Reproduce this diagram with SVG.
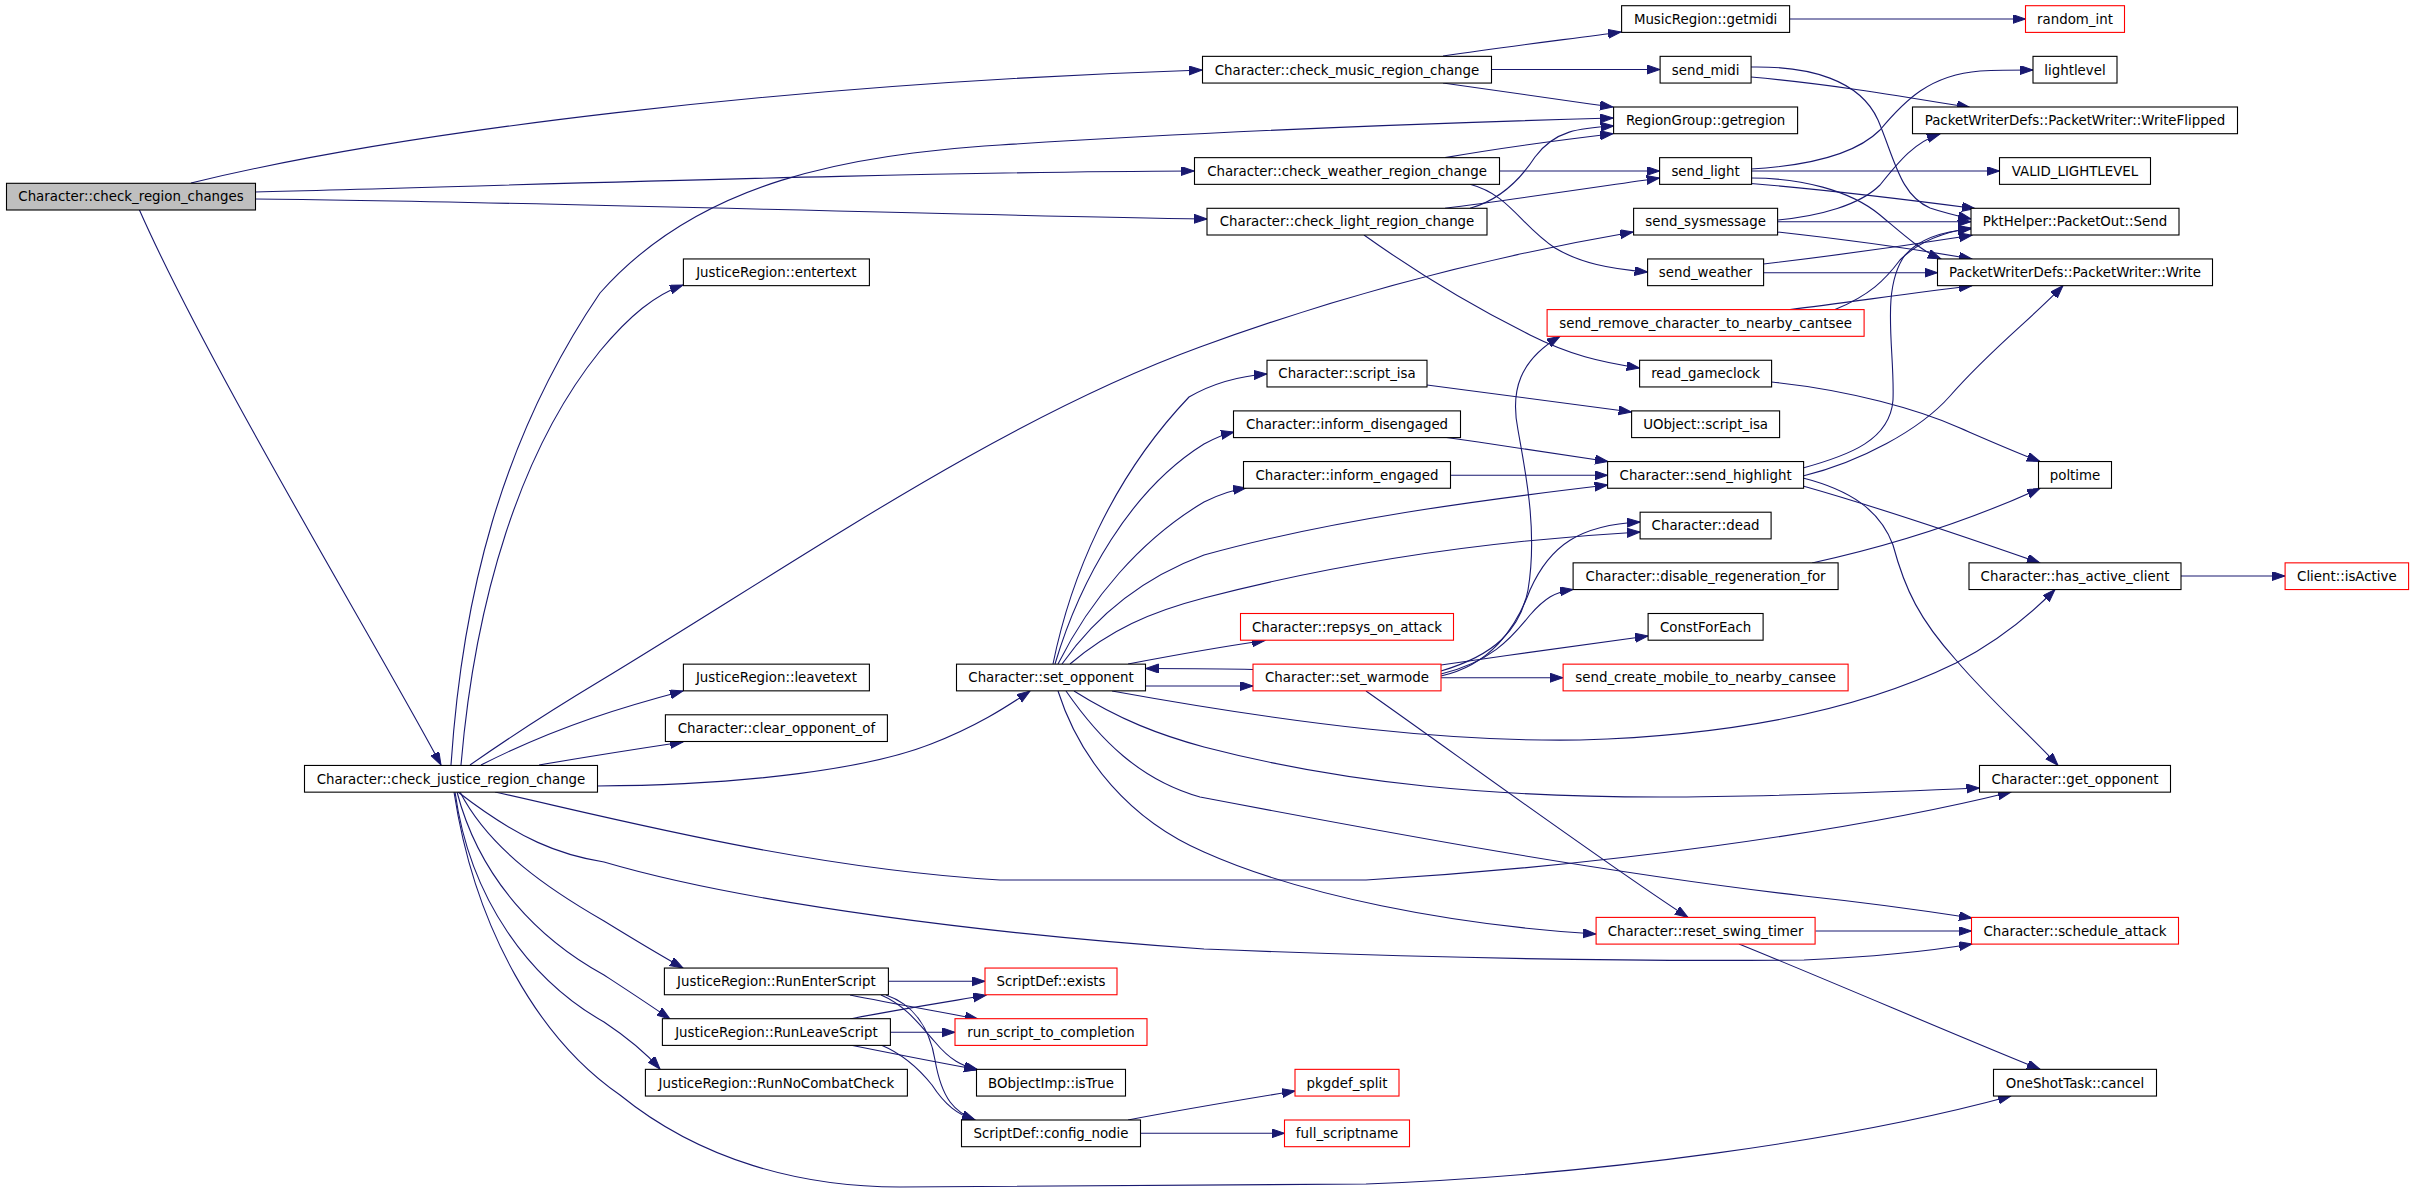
<svg xmlns="http://www.w3.org/2000/svg" width="2413" height="1194" viewBox="0 0 2413 1194">
<style>
.node rect{fill:#fff;stroke:#000;stroke-width:1.1}
.node.red rect{stroke:#f00}
.node.root rect{fill:#bfbfbf}
.node text{font-family:"DejaVu Sans","Liberation Sans",sans-serif;font-size:13.35px;text-anchor:middle;fill:#000}
#edges path{fill:none;stroke:#191970;stroke-width:1.1;marker-end:url(#ah)}
</style>
<defs>
<marker id="ah" markerWidth="14" markerHeight="10" refX="13" refY="4.5" orient="auto" markerUnits="userSpaceOnUse"><path d="M0,0 L13,4.5 L0,9 z" fill="#191970" stroke="#191970" stroke-width="1"/></marker>
</defs>
<rect width="2413" height="1194" fill="#fff"/>
<g id="edges">
<path d="M191,183 C 400,132 780,84 1202,70"/>
<path d="M255,192 C 500,186 900,172 1194,171"/>
<path d="M255,199 C 500,201 900,214 1207,219"/>
<path d="M139,209 C 210,370 380,650 441,765"/>
<path d="M1443,56 C 1510,46 1570,39 1621,32"/>
<path d="M1491,69.5 L1660,69.5"/>
<path d="M1443,83 C 1510,92 1560,100 1613,107"/>
<path d="M451,765 C 462,600 500,440 600,293 C 700,180 850,155 1000,145 C 1200,132 1400,124 1613,118"/>
<path d="M461,765 C 475,600 520,450 600,351 C 630,315 655,295 683,285"/>
<path d="M470,765 C 520,730 560,705 600,681 C 800,560 1000,420 1200,347 C 1350,292 1500,255 1633,232"/>
<path d="M481,765 C 560,725 630,705 683,691"/>
<path d="M539,765 C 580,758 630,750 683,742"/>
<path d="M597,786 C 750,785 870,768 931,744 C 975,727 1005,708 1030,691"/>
<path d="M495,792 C 600,815 800,868 1000,880 L1366,880 C 1600,866 1850,832 2011,792"/>
<path d="M458,792 C 520,840 560,855 604,862 C 750,905 1000,935 1204,949 C 1400,957 1600,962 1804,960 C 1870,957 1930,951 1972,944"/>
<path d="M460,792 C 490,850 550,890 604,921 C 630,937 660,955 683,968"/>
<path d="M457,792 C 480,880 540,940 604,975 C 630,992 650,1005 670,1019"/>
<path d="M455,792 C 470,900 530,980 604,1022 C 625,1036 645,1052 660,1069"/>
<path d="M454,792 C 475,930 540,1040 620,1095 C 700,1160 800,1187 900,1187 L1366,1184 C 1600,1175 1850,1140 2011,1096"/>
<path d="M1445,157.6 C 1500,148 1560,140 1613,133.7"/>
<path d="M1499.5,171 L1659.6,171"/>
<path d="M1470,184.3 C 1510,195 1520,225 1555,248 C 1580,263 1610,269 1647.6,272"/>
<path d="M1470,208.3 C 1500,200 1520,180 1535,157 C 1555,130 1580,128 1613.6,126"/>
<path d="M1445,208.3 C 1510,200 1590,188 1659.6,178"/>
<path d="M1364,235 C 1420,275 1480,310 1530,335 C 1570,355 1600,362 1639.6,368"/>
<path d="M1789.6,19 L2025.5,19"/>
<path d="M1751,67 C 1810,66 1860,80 1878,120 C 1895,160 1900,195 1930,208 C 1945,213 1958,216 1971,219"/>
<path d="M1751,77 C 1830,84 1900,96 1970,107.5"/>
<path d="M1751,169 C 1820,165 1860,150 1880,130 C 1905,100 1930,75 1980,71 C 2000,70 2015,70 2033,70"/>
<path d="M1751,171 L1999.5,171"/>
<path d="M1751,178 C 1800,178 1850,190 1880,215 C 1905,236 1920,250 1941,259"/>
<path d="M1751,183.5 C 1830,190 1910,200 1975,208.5"/>
<path d="M1777.6,220 C 1820,216 1860,205 1880,185 C 1900,160 1915,142 1940,134"/>
<path d="M1777.6,221.7 L1971,221.7"/>
<path d="M1777.6,232 C 1850,240 1920,250 1972,259"/>
<path d="M1763.6,264 C 1840,255 1910,245 1972,235.2"/>
<path d="M1763.6,272.7 L1937.5,272.7"/>
<path d="M1790,309.6 C 1850,302 1920,292 1972,285.8"/>
<path d="M1835,309.6 C 1870,295 1885,280 1900,260 C 1920,240 1945,232 1971,228"/>
<path d="M1771.6,382 C 1850,390 1920,410 1960,428 C 1990,441 2015,452 2040,461.5"/>
<path d="M1427,385 C 1500,395 1570,404 1631.6,412"/>
<path d="M1053,664 C 1070,580 1110,480 1189,397 C 1215,382 1240,376 1267,374"/>
<path d="M1055,664 C 1080,580 1130,490 1204,444 C 1215,438 1225,434 1234,432"/>
<path d="M1058,664 C 1090,600 1140,540 1204,502 C 1220,494 1232,490 1246,488"/>
<path d="M1062,664 C 1100,610 1150,575 1204,555 C 1330,520 1480,500 1607.6,485"/>
<path d="M1070,664 C 1110,630 1150,612 1204,598 C 1350,560 1500,540 1640,532"/>
<path d="M1128,664 C 1170,656 1220,647 1265,640.5"/>
<path d="M1145.5,686 L1253,686"/>
<path d="M1253,669.5 C 1220,668.5 1180,668.5 1145.5,668.5"/>
<path d="M1112,691 C 1300,725 1450,742 1580,740 C 1750,735 1870,705 1956,663 C 2000,640 2030,615 2055,589.5"/>
<path d="M1074,691 C 1120,720 1160,735 1204,747 C 1350,785 1500,797 1660,797 C 1780,797 1880,792 1979.5,788"/>
<path d="M1066,691 C 1100,740 1140,780 1200,797 C 1400,835 1600,872 1804,896 C 1870,903 1920,910 1972,918"/>
<path d="M1058,691 C 1080,760 1130,820 1204,852 C 1300,895 1450,925 1596,934"/>
<path d="M1441,671 C 1495,655 1520,630 1528,590 C 1538,530 1525,470 1518,430 C 1510,390 1520,360 1560,336.3"/>
<path d="M1441,676 C 1490,665 1515,630 1530,590 C 1550,545 1580,525 1640,522"/>
<path d="M1441,674 C 1490,662 1510,640 1530,615 C 1545,598 1555,592 1573,589.5"/>
<path d="M1441,665 C 1510,655 1580,645 1648,636"/>
<path d="M1441,677.7 L1563,677.7"/>
<path d="M1366,691 C 1450,750 1600,860 1688,917.4"/>
<path d="M1803,468 C 1850,455 1890,440 1893,400 C 1895,350 1880,290 1905,255 C 1920,238 1945,231 1971,229"/>
<path d="M1803,476 C 1860,462 1920,430 1950,396 C 1990,350 2030,320 2063,285.7"/>
<path d="M1803,486 C 1870,505 1960,535 2040,563"/>
<path d="M1803,478 C 1850,490 1880,510 1893,545 C 1905,590 1920,620 1956,660 C 1990,700 2030,735 2058,765.4"/>
<path d="M1812,563 C 1880,548 1960,525 2040,488.3"/>
<path d="M2181,576 L2285,576"/>
<path d="M1815.6,931 L1971.5,931"/>
<path d="M1739,944 C 1840,985 1950,1033 2040,1069.3"/>
<path d="M1128,1120 C 1180,1110 1240,1100 1295,1091"/>
<path d="M1140.5,1133.3 L1284.5,1133.3"/>
<path d="M888.5,981.3 L985,981.3"/>
<path d="M850,995 C 890,1003 930,1010 978,1019"/>
<path d="M881,995 C 905,1005 920,1025 935,1042 C 950,1060 962,1066 978,1070"/>
<path d="M886,995 C 915,1005 930,1030 935,1060 C 942,1100 955,1112 975,1120"/>
<path d="M850,1019 C 895,1010 940,1003 986,995.3"/>
<path d="M890,1032.3 L955,1032.3"/>
<path d="M850,1045 C 890,1053 935,1062 977,1069.5"/>
<path d="M881,1045 C 905,1055 920,1070 932,1085 C 945,1105 958,1115 975,1120"/>
<path d="M1443,437 C 1500,445 1560,454 1608,461.5"/>
<path d="M1450,475.3 L1607.6,475.3"/>
</g>
<g id="n1" class="node root"><rect x="6.5" y="183.3" width="249" height="26.7"/><text x="131" y="201.45">Character::check_region_changes</text></g>
<g id="n2" class="node"><rect x="1202.5" y="56.35" width="289" height="26.7"/><text x="1347" y="74.5">Character::check_music_region_change</text></g>
<g id="n3" class="node"><rect x="1194.5" y="157.65" width="305" height="26.7"/><text x="1347" y="175.8">Character::check_weather_region_change</text></g>
<g id="n4" class="node"><rect x="1207" y="208.3" width="280" height="26.7"/><text x="1347" y="226.45">Character::check_light_region_change</text></g>
<g id="n5" class="node"><rect x="304.5" y="765.45" width="293" height="26.7"/><text x="451" y="783.6">Character::check_justice_region_change</text></g>
<g id="n6" class="node"><rect x="1621.6" y="5.7" width="168" height="26.7"/><text x="1705.6" y="23.85">MusicRegion::getmidi</text></g>
<g id="n7" class="node"><rect x="1660.1" y="56.35" width="91" height="26.7"/><text x="1705.6" y="74.5">send_midi</text></g>
<g id="n8" class="node"><rect x="1613.6" y="107" width="184" height="26.7"/><text x="1705.6" y="125.15">RegionGroup::getregion</text></g>
<g id="n9" class="node"><rect x="1659.6" y="157.65" width="92" height="26.7"/><text x="1705.6" y="175.8">send_light</text></g>
<g id="n10" class="node"><rect x="1633.6" y="208.3" width="144" height="26.7"/><text x="1705.6" y="226.45">send_sysmessage</text></g>
<g id="n11" class="node"><rect x="1647.6" y="258.95" width="116" height="26.7"/><text x="1705.6" y="277.1">send_weather</text></g>
<g id="n12" class="node red"><rect x="1547.1" y="309.6" width="317" height="26.7"/><text x="1705.6" y="327.75">send_remove_character_to_nearby_cantsee</text></g>
<g id="n13" class="node"><rect x="1639.6" y="360.25" width="132" height="26.7"/><text x="1705.6" y="378.4">read_gameclock</text></g>
<g id="n14" class="node"><rect x="1267" y="360.25" width="160" height="26.7"/><text x="1347" y="378.4">Character::script_isa</text></g>
<g id="n15" class="node red"><rect x="2025.5" y="5.7" width="99" height="26.7"/><text x="2075" y="23.85">random_int</text></g>
<g id="n16" class="node"><rect x="2033" y="56.35" width="84" height="26.7"/><text x="2075" y="74.5">lightlevel</text></g>
<g id="n17" class="node"><rect x="1912.5" y="107" width="325" height="26.7"/><text x="2075" y="125.15">PacketWriterDefs::PacketWriter::WriteFlipped</text></g>
<g id="n18" class="node"><rect x="1999.5" y="157.65" width="151" height="26.7"/><text x="2075" y="175.8">VALID_LIGHTLEVEL</text></g>
<g id="n19" class="node"><rect x="1971" y="208.3" width="208" height="26.7"/><text x="2075" y="226.45">PktHelper::PacketOut::Send</text></g>
<g id="n20" class="node"><rect x="1937.5" y="258.95" width="275" height="26.7"/><text x="2075" y="277.1">PacketWriterDefs::PacketWriter::Write</text></g>
<g id="n21" class="node"><rect x="683.4" y="258.95" width="186" height="26.7"/><text x="776.4" y="277.1">JusticeRegion::entertext</text></g>
<g id="n22" class="node"><rect x="683.4" y="664.15" width="186" height="26.7"/><text x="776.4" y="682.3">JusticeRegion::leavetext</text></g>
<g id="n23" class="node"><rect x="665.4" y="714.8" width="222" height="26.7"/><text x="776.4" y="732.95">Character::clear_opponent_of</text></g>
<g id="n24" class="node"><rect x="956.5" y="664.15" width="189" height="26.7"/><text x="1051" y="682.3">Character::set_opponent</text></g>
<g id="n25" class="node"><rect x="1631.6" y="410.9" width="148" height="26.7"/><text x="1705.6" y="429.05">UObject::script_isa</text></g>
<g id="n26" class="node"><rect x="1233.5" y="410.9" width="227" height="26.7"/><text x="1347" y="429.05">Character::inform_disengaged</text></g>
<g id="n27" class="node"><rect x="1243.5" y="461.55" width="207" height="26.7"/><text x="1347" y="479.7">Character::inform_engaged</text></g>
<g id="n28" class="node"><rect x="1607.6" y="461.55" width="196" height="26.7"/><text x="1705.6" y="479.7">Character::send_highlight</text></g>
<g id="n29" class="node"><rect x="1640.1" y="512.2" width="131" height="26.7"/><text x="1705.6" y="530.35">Character::dead</text></g>
<g id="n30" class="node"><rect x="1573.1" y="562.85" width="265" height="26.7"/><text x="1705.6" y="581">Character::disable_regeneration_for</text></g>
<g id="n31" class="node red"><rect x="1240.5" y="613.5" width="213" height="26.7"/><text x="1347" y="631.65">Character::repsys_on_attack</text></g>
<g id="n32" class="node"><rect x="1648.1" y="613.5" width="115" height="26.7"/><text x="1705.6" y="631.65">ConstForEach</text></g>
<g id="n33" class="node red"><rect x="1253" y="664.15" width="188" height="26.7"/><text x="1347" y="682.3">Character::set_warmode</text></g>
<g id="n34" class="node red"><rect x="1563.1" y="664.15" width="285" height="26.7"/><text x="1705.6" y="682.3">send_create_mobile_to_nearby_cansee</text></g>
<g id="n35" class="node"><rect x="2038.5" y="461.55" width="73" height="26.7"/><text x="2075" y="479.7">poltime</text></g>
<g id="n36" class="node"><rect x="1969" y="562.85" width="212" height="26.7"/><text x="2075" y="581">Character::has_active_client</text></g>
<g id="n37" class="node red"><rect x="2285.1" y="562.85" width="123.5" height="26.7"/><text x="2346.85" y="581">Client::isActive</text></g>
<g id="n38" class="node"><rect x="1979.5" y="765.45" width="191" height="26.7"/><text x="2075" y="783.6">Character::get_opponent</text></g>
<g id="n39" class="node"><rect x="664.4" y="968.05" width="224" height="26.7"/><text x="776.4" y="986.2">JusticeRegion::RunEnterScript</text></g>
<g id="n40" class="node red"><rect x="985" y="968.05" width="132" height="26.7"/><text x="1051" y="986.2">ScriptDef::exists</text></g>
<g id="n41" class="node"><rect x="662.4" y="1018.7" width="228" height="26.7"/><text x="776.4" y="1036.85">JusticeRegion::RunLeaveScript</text></g>
<g id="n42" class="node red"><rect x="955" y="1018.7" width="192" height="26.7"/><text x="1051" y="1036.85">run_script_to_completion</text></g>
<g id="n43" class="node"><rect x="645.4" y="1069.35" width="262" height="26.7"/><text x="776.4" y="1087.5">JusticeRegion::RunNoCombatCheck</text></g>
<g id="n44" class="node"><rect x="976.5" y="1069.35" width="149" height="26.7"/><text x="1051" y="1087.5">BObjectImp::isTrue</text></g>
<g id="n45" class="node"><rect x="961.5" y="1120" width="179" height="26.7"/><text x="1051" y="1138.15">ScriptDef::config_nodie</text></g>
<g id="n46" class="node red"><rect x="1596.1" y="917.4" width="219" height="26.7"/><text x="1705.6" y="935.55">Character::reset_swing_timer</text></g>
<g id="n47" class="node red"><rect x="1295" y="1069.35" width="104" height="26.7"/><text x="1347" y="1087.5">pkgdef_split</text></g>
<g id="n48" class="node red"><rect x="1284.5" y="1120" width="125" height="26.7"/><text x="1347" y="1138.15">full_scriptname</text></g>
<g id="n49" class="node red"><rect x="1971.5" y="917.4" width="207" height="26.7"/><text x="2075" y="935.55">Character::schedule_attack</text></g>
<g id="n50" class="node"><rect x="1993.5" y="1069.35" width="163" height="26.7"/><text x="2075" y="1087.5">OneShotTask::cancel</text></g>
</svg>
